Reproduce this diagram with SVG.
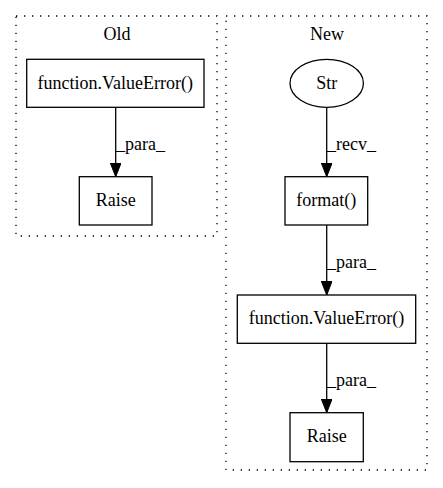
<svg xmlns="http://www.w3.org/2000/svg" width="443" height="488" viewBox="0 0 443 488">
<style>
.cl{fill:none;stroke:#000;stroke-width:1.3;stroke-dasharray:1.3,6.7}
.nd{fill:#fff;stroke:#000;stroke-width:1.3}
.t{font-family:"Liberation Serif","Times New Roman",serif;font-size:18px;fill:#000}
.m{text-anchor:middle}
.e{fill:none;stroke:#000;stroke-width:1.3}
</style>
<defs>
<marker id="ah" markerWidth="14" markerHeight="11" refX="14" refY="5.5" orient="auto" markerUnits="userSpaceOnUse">
<path d="M0,0 L14,5.5 L0,11 Z" fill="#000" stroke="#000" stroke-width="1"/>
</marker>
</defs>
<rect width="443" height="488" fill="#fff"/>
<g id="cluster_old">
<rect class="cl" x="16" y="16" width="201" height="220"/>
<text class="t m" x="117" y="40">Old</text>
</g>
<g id="cluster_new">
<rect class="cl" x="226" y="16" width="201" height="454"/>
<text class="t m" x="327" y="40">New</text>
</g>
<g id="old_valueerror">
<rect class="nd" x="26.7" y="59.3" width="177.3" height="48"/>
<text class="t m" x="115.3" y="88.7">function.ValueError()</text>
</g>
<g id="old_raise">
<rect class="nd" x="79.3" y="176.7" width="72.7" height="48.3"/>
<text class="t m" x="115.7" y="206">Raise</text>
</g>
<g id="new_str">
<ellipse class="nd" cx="326.7" cy="83.3" rx="36.7" ry="24"/>
<text class="t m" x="326.7" y="88.7">Str</text>
</g>
<g id="new_format">
<rect class="nd" x="285" y="176.7" width="82.7" height="48.3"/>
<text class="t m" x="326.3" y="206">format()</text>
</g>
<g id="new_valueerror">
<rect class="nd" x="237.3" y="295" width="178.4" height="48.3"/>
<text class="t m" x="326.5" y="324.3">function.ValueError()</text>
</g>
<g id="new_raise">
<rect class="nd" x="290" y="412.7" width="73.3" height="49"/>
<text class="t m" x="326.7" y="442.3">Raise</text>
</g>
<g id="connectors">
<line class="e" x1="115.7" y1="107.3" x2="115.7" y2="176.7" marker-end="url(#ah)"/>
<text class="t" x="116" y="150">_para_</text>
<line class="e" x1="326.7" y1="107.3" x2="326.7" y2="176.7" marker-end="url(#ah)"/>
<text class="t" x="327" y="150">_recv_</text>
<line class="e" x1="326.7" y1="225" x2="326.7" y2="295" marker-end="url(#ah)"/>
<text class="t" x="327" y="268">_para_</text>
<line class="e" x1="326.7" y1="343.3" x2="326.7" y2="412.7" marker-end="url(#ah)"/>
<text class="t" x="327" y="386">_para_</text>
</g>
</svg>
